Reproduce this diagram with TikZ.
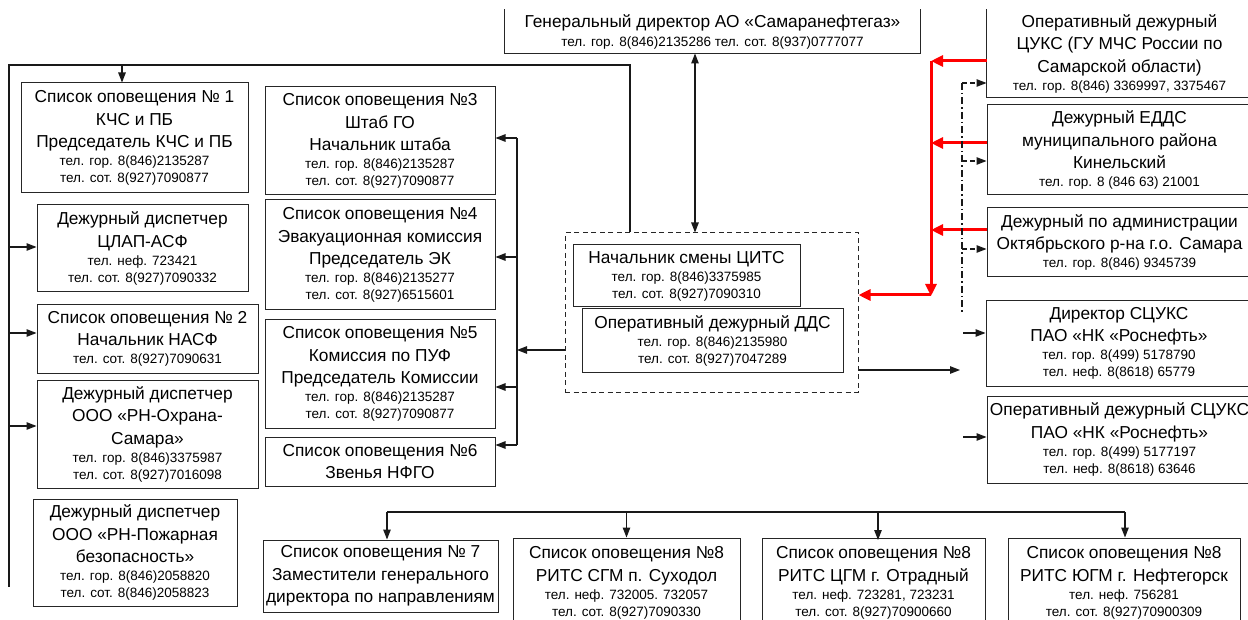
\documentclass[tikz,border=0pt]{standalone}
\usepackage{fontspec}
\setmainfont{Liberation Sans}
\usetikzlibrary{arrows.meta,calc}
\newcommand\bigline[1]{{\fontsize{17.3}{21}\selectfont #1}}
\tikzset{
  box/.style={draw=black!85, line width=1pt, align=center, inner sep=0pt,
    font=\fontsize{13.5}{17}\selectfont, anchor=center},
  openbox/.style={box, draw=none},
  conn/.style={draw=black!90, line width=1.1pt},
  arr/.style={conn, -{Triangle[length=10pt,width=7.5pt]}},
  darr/.style={conn, {Triangle[length=10pt,width=7.5pt]}-{Triangle[length=10pt,width=7.5pt]}},
  redarr/.style={draw=red, line width=3pt, -{Triangle[length=12pt,width=11pt]}},
  dashbox/.style={draw=black!85, line width=1pt, dash pattern=on 5pt off 3.5pt},
  ddot/.style={draw=black!90, line width=1.1pt, dash pattern=on 7pt off 3pt on 1.5pt off 3pt},
  dsh/.style={draw=black!90, line width=1.1pt, dash pattern=on 5pt off 3pt, -{Triangle[length=10pt,width=7.5pt]}}
}
\begin{document}
\begin{tikzpicture}[x=1pt,y=-1pt]
\useasboundingbox[fill=white] (0,0) rectangle (1248,620);

% top
\node[openbox, minimum width=415pt, minimum height=43pt] (gen) at (712.5,31.5)
 {\bigline{Генеральный директор АО «Самаранефтегаз»}\\[2pt]тел. гор. 8(846)2135286 тел. сот. 8(937)0777077};
\draw[black!85, line width=1pt] (gen.north west) |- (gen.south east) -- (gen.north east);

% left column
\node[box, minimum width=227pt, minimum height=110pt] (b1) at (134.5,138)
 {\bigline{Список оповещения № 1}\\[5.5pt]\bigline{КЧС и ПБ}\\[5.5pt]\bigline{Председатель КЧС и ПБ}\\[1pt]тел. гор. 8(846)2135287\\тел. сот. 8(927)7090877};
\node[box, minimum width=211pt, minimum height=87pt] (clap) at (142.5,248.5)
 {\bigline{Дежурный диспетчер}\\[5.5pt]\bigline{ЦЛАП-АСФ}\\[1pt]тел. неф. 723421\\тел. сот. 8(927)7090332};
\node[box, minimum width=221pt, minimum height=68pt] (nasf) at (147.5,339)
 {\bigline{Список оповещения № 2}\\[5.5pt]\bigline{Начальник НАСФ}\\[1pt]тел. сот. 8(927)7090631};
\node[box, minimum width=221pt, minimum height=108pt] (ohr) at (147.5,434)
 {\bigline{Дежурный диспетчер}\\[5.5pt]\bigline{ООО «РН-Охрана-}\\[5.5pt]\bigline{Самара»}\\[1pt]тел. гор. 8(846)3375987\\тел. сот. 8(927)7016098};
\node[box, minimum width=204pt, minimum height=107pt] (pozh) at (135,552.5)
 {\bigline{Дежурный диспетчер}\\[5.5pt]\bigline{ООО «РН-Пожарная}\\[5.5pt]\bigline{безопасность»}\\[1pt]тел. гор. 8(846)2058820\\тел. сот. 8(846)2058823};

% middle column
\node[box, minimum width=230pt, minimum height=108pt] (s3) at (380,141)
 {\bigline{Список оповещения №3}\\[5.5pt]\bigline{Штаб ГО}\\[5.5pt]\bigline{Начальник штаба}\\[1pt]тел. гор. 8(846)2135287\\тел. сот. 8(927)7090877};
\node[box, minimum width=230pt, minimum height=110pt] (s4) at (380,255)
 {\bigline{Список оповещения №4}\\[5.5pt]\bigline{Эвакуационная комиссия}\\[5.5pt]\bigline{Председатель ЭК}\\[1pt]тел. гор. 8(846)2135277\\тел. сот. 8(927)6515601};
\node[box, minimum width=230pt, minimum height=108pt] (s5) at (380,374)
 {\bigline{Список оповещения №5}\\[5.5pt]\bigline{Комиссия по ПУФ}\\[5.5pt]\bigline{Председатель Комиссии}\\[1pt]тел. гор. 8(846)2135287\\тел. сот. 8(927)7090877};
\node[box, minimum width=230pt, minimum height=49pt] (s6) at (380,461.5)
 {\bigline{Список оповещения №6}\\[5.5pt]\bigline{Звенья НФГО}};

% centre
\node[dashbox, minimum width=293pt, minimum height=159pt, inner sep=0pt] (dash) at (711.5,312.5) {};
\node[box, minimum width=227pt, minimum height=62pt] (nach) at (686.5,276)
 {\bigline{Начальник смены ЦИТС}\\[1pt]тел. гор. 8(846)3375985\\тел. сот. 8(927)7090310};
\node[box, minimum width=261pt, minimum height=63pt] (dds) at (712.5,340.5)
 {\bigline{Оперативный дежурный ДДС}\\[1pt]тел. гор. 8(846)2135980\\тел. сот. 8(927)7047289};

% right column
\node[openbox, minimum width=265pt, minimum height=87pt] (cuks) at (1119.5,53.5)
 {\bigline{Оперативный дежурный}\\[5.5pt]\bigline{ЦУКС (ГУ МЧС России по}\\[5.5pt]\bigline{Самарской области)}\\[1pt]тел. гор. 8(846) 3369997, 3375467};
\draw[black!85, line width=1pt] (cuks.north west) |- (cuks.south east) -- (cuks.north east);
\node[box, minimum width=265pt, minimum height=90pt] (edds) at (1119.5,150)
 {\bigline{Дежурный ЕДДС}\\[5.5pt]\bigline{муниципального района}\\[5.5pt]\bigline{Кинельский}\\[1pt]тел. гор. 8 (846 63) 21001};
\node[box, minimum width=265pt, minimum height=69pt] (adm) at (1119.5,242.5)
 {\bigline{Дежурный по администрации}\\[5.5pt]\bigline{Октябрьского р-на г.о. Самара}\\[1pt]тел. гор. 8(846) 9345739};
\node[box, minimum width=266pt, minimum height=85pt] (dir) at (1119,343.5)
 {\bigline{Директор СЦУКС}\\[5.5pt]\bigline{ПАО «НК «Роснефть»}\\[1pt]тел. гор. 8(499) 5178790\\тел. неф. 8(8618) 65779};
\node[box, minimum width=265pt, minimum height=87pt] (opd) at (1119.5,439.5)
 {\bigline{Оперативный дежурный СЦУКС}\\[5.5pt]\bigline{ПАО «НК «Роснефть»}\\[1pt]тел. гор. 8(499) 5177197\\тел. неф. 8(8618) 63646};

% bottom row
\node[box, minimum width=235pt, minimum height=72pt] (s7) at (380.5,576)
 {\bigline{Список оповещения № 7}\\[5.5pt]\bigline{Заместители генерального}\\[5.5pt]\bigline{директора по направлениям}};
\node[box, minimum width=227pt, minimum height=90pt] (sgm) at (626.5,583)
 {\bigline{Список оповещения №8}\\[5.5pt]\bigline{РИТС СГМ п. Суходол}\\[1pt]тел. неф. 732005. 732057\\тел. сот. 8(927)7090330};
\node[box, minimum width=223pt, minimum height=90pt] (cgm) at (873.5,583)
 {\bigline{Список оповещения №8}\\[5.5pt]\bigline{РИТС ЦГМ г. Отрадный}\\[1pt]тел. неф. 723281, 723231\\тел. сот. 8(927)70900660};
\node[box, minimum width=232pt, minimum height=90pt] (ugm) at (1124,583)
 {\bigline{Список оповещения №8}\\[5.5pt]\bigline{РИТС ЮГМ г. Нефтегорск}\\[1pt]тел. неф. 756281\\тел. сот. 8(927)70900309};

% ---- connectors ----
\coordinate (tl) at (9,65);
\coordinate (tr) at (630,65);
\coordinate (lb) at (9,587);
\coordinate (t1) at (122,65);
\draw[conn] (dash.north -| tr) -- (tr) -- (tl) -- (lb);
\draw[arr] (t1) -- (t1 |- b1.north);
\draw[arr] (tl |- 0,247) -- (clap.west |- 0,247);
\draw[arr] (tl |- 0,333) -- (nasf.west |- 0,333);
\draw[arr] (tl |- 0,426) -- (ohr.west |- 0,426);

% gen <-> centre
\coordinate (gc) at (695,0);
\draw[darr] (gen.south -| gc) -- (dash.north -| gc);

% middle bus
\coordinate (mb1) at (517,138);
\coordinate (mb2) at (517,445);
\draw[conn] (mb1) -- (mb2);
\draw[arr] (mb1) -- (s3.east |- mb1);
\draw[arr] (mb1 |- 0,257) -- (s4.east |- 0,257);
\draw[arr] (mb1 |- 0,387) -- (s5.east |- 0,387);
\draw[arr] (mb2) -- (s6.east |- mb2);
\draw[arr] (dash.west |- 0,350) -- (mb1 |- 0,350);

% red
\coordinate (rv1) at (931,61);
\coordinate (rv2) at (931,295);
\draw[redarr] (cuks.west |- rv1) -- (rv1);
\draw[redarr] (edds.west |- 0,143) -- (rv1 |- 0,143);
\draw[redarr] (adm.west |- 0,230) -- (rv1 |- 0,230);
\draw[redarr, shorten >=-1pt] (rv1) -- (rv2);
\draw[redarr] (rv2) -- (rv2 -| dash.east);

% dash-dot
\coordinate (dv1) at (962,83);
\coordinate (dv2) at (962,312);
\draw[ddot] (dv1) -- (dv2);
\draw[dsh] (dv1) -- (cuks.west |- dv1);
\draw[dsh] (dv1 |- 0,161) -- (edds.west |- 0,161);
\draw[dsh] (dv1 |- 0,249) -- (adm.west |- 0,249);

% right arrows
\coordinate (re) at (960,370);
\draw[arr] (dash.east |- re) -- (re);
\draw[arr] (963,333) -- (dir.west |- 0,333);
\draw[arr] (963,437) -- (opd.west |- 0,437);

% bottom bus
\coordinate (bl) at (387,512);
\coordinate (br) at (1125,512);
\draw[conn] (bl) -- (br);
\draw[arr] (bl) -- (bl |- s7.north);
\draw[arr] (sgm.north |- bl) -- (sgm.north);
\draw[arr] (878,512) -- (878,540);
\draw[arr] (br) -- (br |- ugm.north);
\end{tikzpicture}
\end{document}
